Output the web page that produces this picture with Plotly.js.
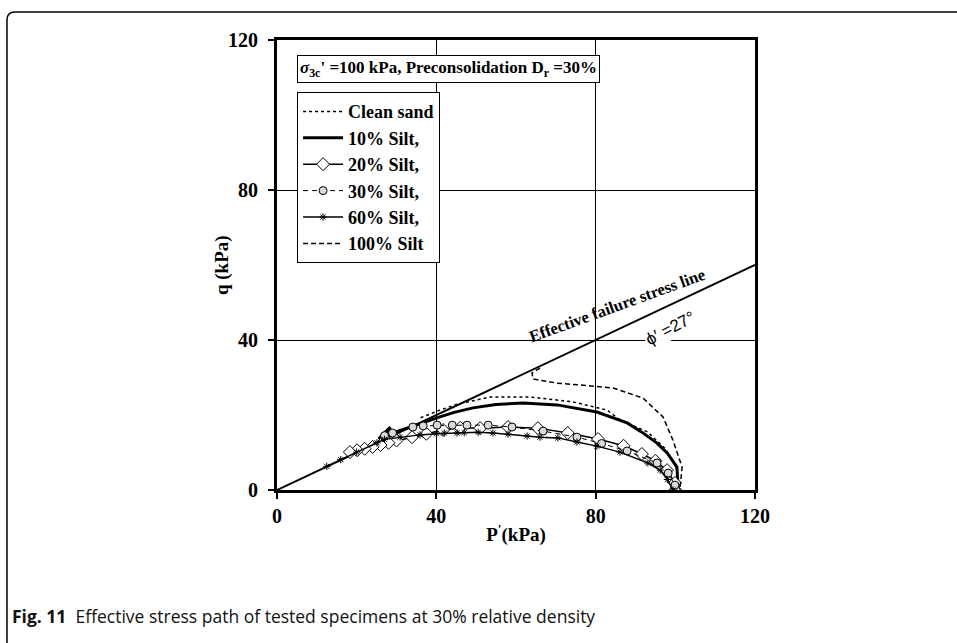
<!DOCTYPE html>
<html>
<head>
<meta charset="utf-8">
<script src="https://cdn.plot.ly/plotly-3.0.1.min.js"></script>
<style>
html,body{margin:0;padding:0;background:#fff;}
#chart{width:957px;height:643px;}
</style>
</head>
<body>
<div id="chart"></div>
<script>
// Failure line
var failP = [0, 120];
var failQ = [0, 60];

// Clean sand
var pClean = [100.7, 100.2, 97.5, 93.0, 86.1, 82.9, 74.3, 63.5, 53.5, 45.0, 40.9, 35.9];
var qClean = [0.8, 6.1, 11.0, 15.5, 18.7, 21.3, 23.5, 24.8, 24.8, 22.8, 21.3, 19.2];

// 10% silt
var p10 = [100.7, 100.4, 98.0, 95.4, 91.5, 87.9, 80.3, 70.3, 61.8, 55.0, 49.2, 44.5, 40.9, 36.0, 32.0, 29.1, 26.5, 28.5, 25.5, 28.0, 26.0, 27.5];
var q10 = [0.8, 6.1, 9.8, 12.5, 15.5, 17.9, 20.8, 22.7, 23.2, 22.8, 21.9, 20.7, 19.5, 17.8, 16.3, 15.2, 14.0, 16.8, 13.6, 16.3, 14.2, 15.5];

// 20% silt
var p20 = [100.0, 99.9, 97.9, 95.0, 91.6, 87.0, 80.6, 73.0, 65.5, 58.0, 51.0, 46.0, 41.7, 37.5, 33.9, 30.0, 28.0, 26.0, 24.0, 22.0, 20.1, 18.3];
var q20 = [0, 1.9, 5.3, 7.8, 9.6, 11.8, 13.6, 15.2, 16.5, 16.8, 16.5, 16.6, 16.0, 15.0, 14.1, 13.2, 12.6, 12.0, 11.5, 11.0, 10.6, 10.1];

// 30% silt
var p30 = [100.2, 99.9, 98.2, 95.4, 87.9, 81.5, 75.3, 66.8, 59.0, 53.0, 47.7, 44.0, 40.2, 36.7, 34.1, 29.0, 27.0];
var q30 = [0, 1.3, 4.5, 7.2, 10.4, 12.4, 14.1, 15.7, 16.8, 17.3, 17.3, 17.3, 17.3, 17.1, 16.8, 15.2, 14.5];

// 60% silt
var p60 = [99.4, 98.0, 96.2, 93.1, 86.1, 80.3, 75.3, 70.5, 66.0, 62.8, 58.0, 54.2, 50.5, 47.0, 45.2, 42.0, 40.0, 35.9, 30.9, 27.0, 25.1, 20.0, 16.0, 12.5];
var q60 = [0, 2.8, 5.3, 7.2, 10.1, 11.7, 12.8, 13.9, 14.1, 14.4, 14.9, 15.2, 15.4, 15.3, 15.2, 15.2, 15.0, 14.7, 14.1, 13.5, 12.6, 10.1, 8.1, 6.3];

// 100% silt
var p100 = [101.2, 101.7, 99.4, 96.9, 91.9, 84.4, 76.1, 70.3, 64.3, 64.0, 66.0];
var q100 = [0.8, 6.1, 13.3, 19.5, 24.5, 27.2, 28.0, 28.5, 29.6, 31.2, 32.5];

var serif = 'Liberation Serif, Times New Roman, serif';

var traces = [
  {x: failP, y: failQ, mode: 'lines', line: {color: '#000', width: 2}, showlegend: false, hoverinfo: 'skip'},
  {x: pClean, y: qClean, name: 'Clean sand', legendgroup: 'a', mode: 'lines', line: {color: '#000', width: 1.5, dash: 'dot'}},
  {x: p10, y: q10, name: '10% Silt,', legendgroup: 'b', mode: 'lines', line: {color: '#000', width: 3}},
  {x: p20, y: q20, name: '20% Silt,', legendgroup: 'c', mode: 'lines+markers', line: {color: '#000', width: 1.5},
   marker: {symbol: 'diamond', size: 10, color: '#fff', line: {color: '#000', width: 1}}},
  {x: p30, y: q30, name: '30% Silt,', legendgroup: 'd', mode: 'lines+markers', line: {color: '#000', width: 1, dash: '5px,4px'},
   marker: {symbol: 'circle', size: 8, color: '#d9d9d9', line: {color: '#000', width: 1}}},
  {x: p60, y: q60, name: '60% Silt,', legendgroup: 'e', mode: 'lines+markers', line: {color: '#000', width: 1.5},
   marker: {symbol: 'asterisk-open', size: 6, color: '#000', line: {color: '#000', width: 1}}},
  {x: p100, y: q100, name: '100% Silt', legendgroup: 'f', mode: 'lines', line: {color: '#000', width: 1.5, dash: '5px,3px'}}
];

var axisCommon = {
  range: [0, 120], dtick: 40, tick0: 0,
  showgrid: true, gridcolor: '#000', gridwidth: 1,
  zeroline: false,
  showline: true, linecolor: '#000', linewidth: 3, mirror: true,
  ticks: 'outside', ticklen: 6, tickwidth: 2, tickcolor: '#000',
  tickfont: {family: serif, size: 20, color: '#000', weight: 'bold'}
};

var layout = {
  width: 957, height: 643,
  margin: {l: 277, r: 202, t: 40, b: 153},
  paper_bgcolor: '#fff', plot_bgcolor: '#fff',
  showlegend: true,
  legend: {
    x: 0.042, y: 0.884, xanchor: 'left', yanchor: 'top',
    bgcolor: '#fff', bordercolor: '#000', borderwidth: 1,
    font: {family: serif, size: 18, color: '#000', weight: 'bold'},
    tracegroupgap: 0, itemwidth: 40
  },
  xaxis: Object.assign({}, axisCommon, {
    title: {text: 'P<sup>\'</sup>(kPa)', font: {family: serif, size: 19, color: '#000', weight: 'bold'}, standoff: 2}
  }),
  yaxis: Object.assign({}, axisCommon, {
    ticklabelstandoff: 6
  }),
  shapes: [
    {type: 'path', xref: 'paper', yref: 'paper',
     path: 'M -0.5649,-0.40 L -0.5649,1.0444 Q -0.5649,1.0622 -0.5481,1.0622 L 1.45,1.0622',
     line: {color: '#000', width: 1.5}}
  ],
  annotations: [
    {xref: 'paper', yref: 'paper', x: -0.115, y: 0.5, xanchor: 'center', yanchor: 'middle', showarrow: false,
     textangle: -90, text: '<b>q (kPa)</b>',
     font: {family: serif, size: 19, color: '#000'}},
    {xref: 'paper', yref: 'paper', x: 0.358, y: 0.936, xanchor: 'center', yanchor: 'middle', showarrow: false,
     text: '<b><i>σ</i><sub>3c</sub>\' =100 kPa, Preconsolidation D<sub>r</sub> =30%</b>',
     font: {family: serif, size: 17, color: '#000'},
     bgcolor: '#fff', bordercolor: '#000', borderwidth: 1, borderpad: 2},
    {xref: 'x', yref: 'y', x: 85.4, y: 49.3, showarrow: false, textangle: -20,
     text: '<b>Effective failure stress line</b>',
     font: {family: serif, size: 16.5, color: '#000'}},
    {xref: 'x', yref: 'y', x: 98.7, y: 43.0, showarrow: false, textangle: -28,
     text: 'ϕ′ =27°', bgcolor: '#fff',
     font: {family: 'Liberation Sans, Arial, sans-serif', size: 17, color: '#000'}},
    {xref: 'paper', yref: 'paper', x: -0.5586, y: -0.28, xanchor: 'left', yanchor: 'middle', showarrow: false,
     text: '<b>Fig. 11</b>  Effective stress path of tested specimens at 30% relative density',
     font: {family: 'Open Sans, Noto Sans, sans-serif', size: 17.5, color: '#111'}}
  ]
};

Plotly.newPlot('chart', traces, layout, {displayModeBar: false, staticPlot: true});
</script>
</body>
</html>
